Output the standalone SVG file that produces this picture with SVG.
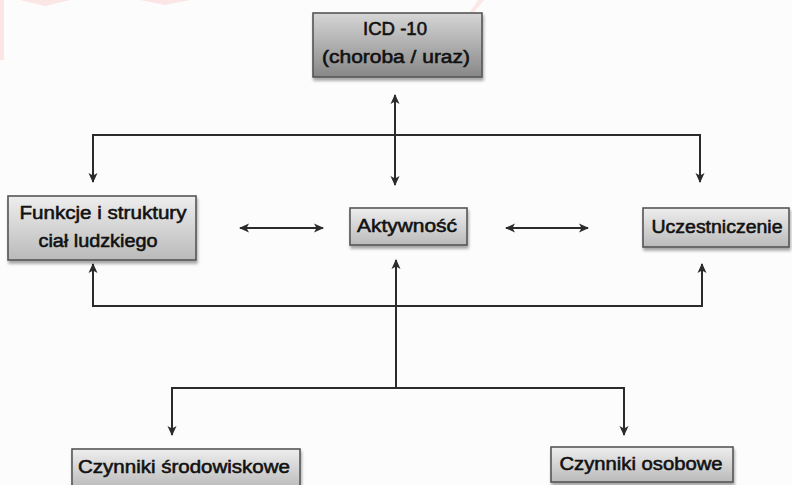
<svg xmlns="http://www.w3.org/2000/svg" width="792" height="485" viewBox="0 0 792 485">
  <defs>
    <linearGradient id="gDark" x1="0" y1="0" x2="0" y2="1">
      <stop offset="0" stop-color="#d6d6d6"/>
      <stop offset="1" stop-color="#878787"/>
    </linearGradient>
    <linearGradient id="gLight" x1="0" y1="0" x2="0" y2="1">
      <stop offset="0" stop-color="#eeeeee"/>
      <stop offset="1" stop-color="#bababa"/>
    </linearGradient>
    <filter id="sh" x="-10%" y="-20%" width="130%" height="160%">
      <feGaussianBlur in="SourceAlpha" stdDeviation="1.5"/>
      <feOffset dx="1" dy="3" result="b"/>
      <feComponentTransfer><feFuncA type="linear" slope="0.35"/></feComponentTransfer>
      <feMerge><feMergeNode/><feMergeNode in="SourceGraphic"/></feMerge>
    </filter>
    <marker id="ah" viewBox="0 0 10 10" refX="9" refY="5" markerWidth="10" markerHeight="10" markerUnits="userSpaceOnUse" orient="auto-start-reverse">
      <path d="M0,0.5 L10,5 L0,9.5 L2.5,5 z" fill="#2b2b2b"/>
    </marker>
    <style>
      .box { stroke: #555; stroke-width: 1.6; filter: url(#sh); }
      .dark { fill: url(#gDark); }
      .light { fill: url(#gLight); }
      .t { font-family: "Liberation Sans", Arial, sans-serif; font-size: 18px; fill: #111; stroke: #111; stroke-width: 0.55; text-anchor: middle; }
      .c { fill: none; stroke: #2b2b2b; stroke-width: 2; }
      .a1 { marker-end: url(#ah); }
      .a2 { marker-start: url(#ah); marker-end: url(#ah); }
    </style>
  </defs>

  <rect width="792" height="485" fill="#fcfcfc"/>
  <!-- faint watermark remnants -->
  <g fill="#fbe0e0" opacity="0.8">
    <polygon points="20,0 70,0 45,6"/>
    <polygon points="140,0 190,0 165,5"/>
    <rect x="0" y="0" width="4" height="60"/>
    <polygon points="478,0 484,0 474,12 470,12"/>
  </g>

  <g id="connectors">
    <line class="c a2" x1="395" y1="95" x2="395" y2="185"/>
    <polyline class="c" points="93,182 93,135 700,135 700,182" marker-start="url(#ah)" marker-end="url(#ah)"/>
    <line class="c a2" x1="240" y1="228" x2="323" y2="228"/>
    <line class="c a2" x1="506" y1="228" x2="588" y2="228"/>
    <polyline class="c" points="93,264 93,306 702,306 702,264" marker-start="url(#ah)" marker-end="url(#ah)"/>
    <line class="c a1" x1="396" y1="388" x2="396" y2="260"/>
    <polyline class="c" points="172,435 172,388 624,388 624,435" marker-start="url(#ah)" marker-end="url(#ah)"/>
  </g>

  <g id="icd">
    <rect class="box dark" x="313" y="13" width="169" height="64"/>
    <text class="t" x="395" y="35" textLength="64" lengthAdjust="spacingAndGlyphs">ICD -10</text>
    <text class="t" x="396" y="63" textLength="148" lengthAdjust="spacingAndGlyphs">(choroba / uraz)</text>
  </g>

  <g id="funkcje">
    <rect class="box light" x="8" y="196" width="188" height="64"/>
    <text class="t" x="103" y="219" textLength="167" lengthAdjust="spacingAndGlyphs">Funkcje i struktury</text>
    <text class="t" x="98" y="247" textLength="119" lengthAdjust="spacingAndGlyphs">ciał ludzkiego</text>
  </g>

  <g id="aktywnosc">
    <rect class="box light" x="350" y="208" width="117" height="37"/>
    <text class="t" x="407" y="232" textLength="100" lengthAdjust="spacingAndGlyphs">Aktywność</text>
  </g>

  <g id="uczestniczenie">
    <rect class="box light" x="643" y="208" width="146" height="39"/>
    <text class="t" x="717" y="233" textLength="131" lengthAdjust="spacingAndGlyphs">Uczestniczenie</text>
  </g>

  <g id="srodowiskowe">
    <rect class="box light" x="72" y="449" width="228" height="40"/>
    <text class="t" x="184" y="473" textLength="212" lengthAdjust="spacingAndGlyphs">Czynniki środowiskowe</text>
  </g>

  <g id="osobowe">
    <rect class="box light" x="551" y="447" width="182" height="35"/>
    <text class="t" x="641" y="470" textLength="163" lengthAdjust="spacingAndGlyphs">Czynniki osobowe</text>
  </g>
</svg>
